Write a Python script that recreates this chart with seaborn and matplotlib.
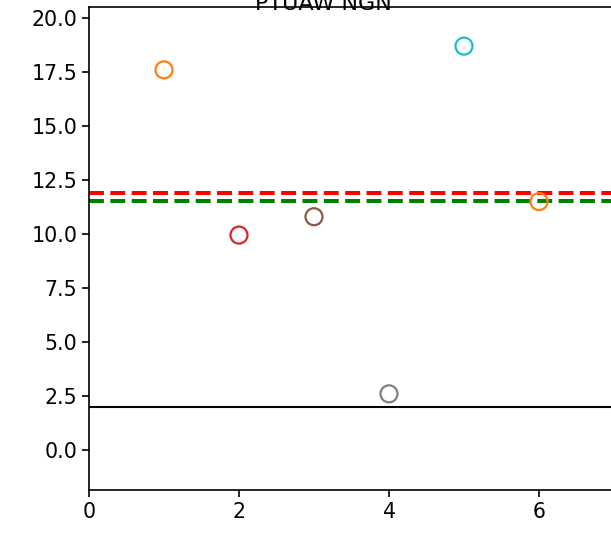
import matplotlib
matplotlib.use("Agg")
import matplotlib.pyplot as plt
import seaborn as sns
import pandas as pd

# Observations
x_pos = [1, 2, 3, 4, 5, 6]
values = [17.6, 9.95, 10.8, 2.6, 18.7, 11.5]
point_colors = ["tab:orange", "tab:red", "tab:brown", "tab:gray", "tab:cyan", "tab:orange"]

# Reference levels
red_level = 11.92
green_level = 11.55
base_level = 2.0

# Tick positions and labels
x_ticks = [0, 2, 4, 6]
y_ticks = [0, 2.5, 5, 7.5, 10, 12.5, 15, 17.5, 20]
y_tick_labels = ["0.0", "2.5", "5.0", "7.5", "10.0", "12.5", "15.0", "17.5", "20.0"]

title_text = "PTUAW NGN"

sns.set_style("ticks")
plt.rcParams["font.family"] = ["DejaVu Sans"]
plt.rcParams["font.size"] = 14.8
plt.rcParams["text.color"] = "black"

W, H = 611, 534
fig = plt.figure(figsize=(W / 100, H / 100), dpi=100)
ax = fig.add_axes([89 / W, 44 / H, 7.5 * 75 / W, 483 / H])

df = pd.DataFrame({"x": x_pos, "y": values, "k": [str(i) for i in range(len(values))]})
sns.scatterplot(data=df, x="x", y="y", hue="k", palette=point_colors,
                s=150, linewidth=1.6, legend=False, ax=ax, zorder=3)
coll = ax.collections[0]
fc = coll.get_facecolors()
coll.set_edgecolors(fc)
coll.set_facecolors("none")

ax.axhline(red_level, color="red", linestyle="--", linewidth=2.9)
ax.axhline(green_level, color="green", linestyle="--", linewidth=2.9)
ax.axhline(base_level, color="black", linestyle="-", linewidth=1.5)

ax.set_xlim(0, 7.5)
ax.set_ylim(-1.852, 20.51)
ax.set_xticks(x_ticks)
ax.set_yticks(y_ticks)
ax.set_yticklabels(y_tick_labels)
ax.set_xlabel("")
ax.set_ylabel("")
for s in ax.spines.values():
    s.set_linewidth(1.2)
    s.set_color("black")
ax.tick_params(length=5, width=1.2, labelsize=14.8, colors="black")

fig.text(323 / W, 1 - 10 / H, title_text, ha="center", va="baseline",
         fontsize=16, color="black")

fig.savefig("out.png", dpi=100)
